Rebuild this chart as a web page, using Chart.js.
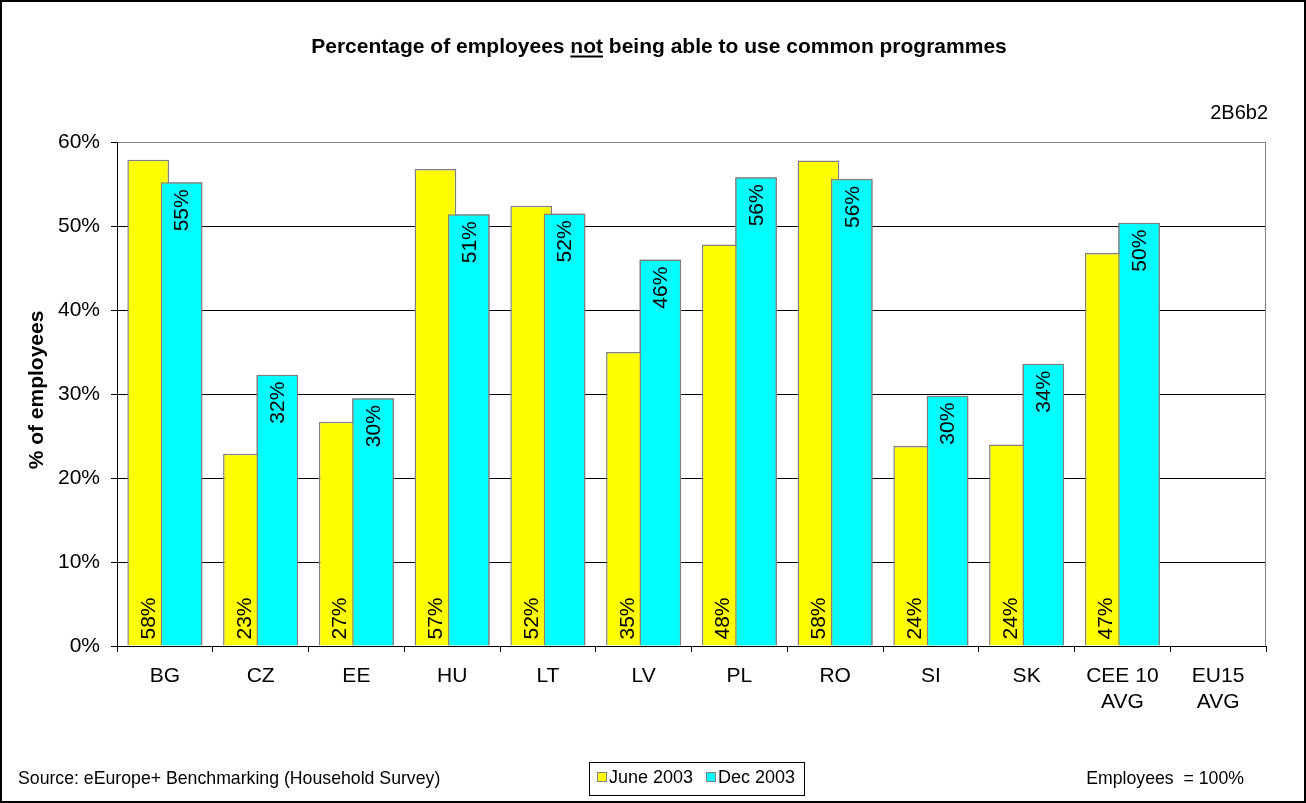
<!DOCTYPE html>
<html>
<head>
<meta charset="utf-8">
<script src="https://cdn.jsdelivr.net/npm/chart.js@4/dist/chart.umd.min.js"></script>
<style>
  html, body { margin: 0; padding: 0; background: #fff; }
  canvas { display: block; }
</style>
</head>
<body>
<canvas id="chart" width="1306" height="803"></canvas>
<script>
// Countries (plus the two averages) along the x axis
const categories = ['BG', 'CZ', 'EE', 'HU', 'LT', 'LV', 'PL', 'RO', 'SI', 'SK', ['CEE 10', 'AVG'], ['EU15', 'AVG']];

// Share of employees who cannot use common programmes, in percent
const june2003 = [57.9, 22.9, 26.7, 56.8, 52.4, 35.0, 47.8, 57.8, 23.8, 24.0, 46.8, null];
const dec2003  = [55.2, 32.3, 29.5, 51.4, 51.5, 46.0, 55.8, 55.6, 29.8, 33.6, 50.4, null];

const seriesNames = ['June 2003', 'Dec 2003'];
const yTickValues = [0, 10, 20, 30, 40, 50, 60];

const titleParts = ['Percentage of employees ', 'not', ' being able to use common programmes'];
const chartCode = '2B6b2';
const yAxisTitle = '% of employees';
const sourceNote = 'Source: eEurope+ Benchmarking (Household Survey)';
const baseNote = 'Employees  = 100%';

const FONT = '"Liberation Sans", Arial, Helvetica, sans-serif';
const YELLOW = '#FFFF00';
const CYAN = '#00FFFF';
const BAR_EDGE = '#808080';

const pct = v => Math.round(v) + '%';

const decorations = {
  id: 'decorations',
  beforeDraw(chart) {
    const ctx = chart.ctx;
    ctx.save();
    ctx.fillStyle = '#fff';
    ctx.fillRect(0, 0, chart.width, chart.height);
    ctx.restore();
  },
  afterDatasetsDraw(chart) {
    const ctx = chart.ctx;
    // the Dec bars overlap the June bars, so paint them again on top
    chart.getDatasetMeta(1).controller.draw();

    ctx.save();
    ctx.fillStyle = '#000';
    ctx.font = '21px ' + FONT;
    ctx.textBaseline = 'middle';
    // June values sit at the foot of the bar, Dec values hang from the top
    chart.getDatasetMeta(0).data.forEach((bar, i) => {
      const v = june2003[i];
      if (v == null) return;
      ctx.save();
      ctx.translate(bar.x, bar.base - 6);
      ctx.rotate(-Math.PI / 2);
      ctx.textAlign = 'left';
      ctx.fillText(pct(v), 0, 1);
      ctx.restore();
    });
    chart.getDatasetMeta(1).data.forEach((bar, i) => {
      const v = dec2003[i];
      if (v == null) return;
      ctx.save();
      ctx.translate(bar.x, bar.y + 7);
      ctx.rotate(-Math.PI / 2);
      ctx.textAlign = 'right';
      ctx.fillText(pct(v), 0, 1);
      ctx.restore();
    });
    ctx.restore();
  },
  afterDraw(chart) {
    const ctx = chart.ctx;
    const area = chart.chartArea;
    ctx.save();

    // grey frame on the right side of the plot
    ctx.strokeStyle = BAR_EDGE;
    ctx.lineWidth = 1;
    ctx.beginPath();
    ctx.moveTo(Math.round(area.right) - 0.5, area.top);
    ctx.lineTo(Math.round(area.right) - 0.5, area.bottom);
    ctx.stroke();

    // title with the underlined word
    ctx.fillStyle = '#000';
    ctx.font = 'bold 21px ' + FONT;
    ctx.textBaseline = 'alphabetic';
    ctx.textAlign = 'left';
    const widths = titleParts.map(p => ctx.measureText(p).width);
    const total = widths.reduce((a, b) => a + b, 0);
    let x = 659 - total / 2;
    titleParts.forEach((p, i) => {
      ctx.fillText(p, x, 53);
      if (i === 1) ctx.fillRect(x, 55.5, widths[i], 2);
      x += widths[i];
    });

    // chart code, top right
    ctx.font = '20px ' + FONT;
    ctx.textAlign = 'right';
    ctx.textBaseline = 'middle';
    ctx.fillText(chartCode, 1268, 113);

    // y axis title
    ctx.save();
    ctx.translate(37, 390);
    ctx.rotate(-Math.PI / 2);
    ctx.font = 'bold 21px ' + FONT;
    ctx.textAlign = 'center';
    ctx.textBaseline = 'middle';
    ctx.fillText(yAxisTitle, 0, 0);
    ctx.restore();

    // footer notes
    ctx.font = '17.7px ' + FONT;
    ctx.textBaseline = 'middle';
    ctx.textAlign = 'left';
    ctx.fillText(sourceNote, 18, 779);
    ctx.textAlign = 'right';
    ctx.fillText(baseNote, 1244, 779);

    // legend
    ctx.strokeStyle = '#000';
    ctx.lineWidth = 1;
    ctx.strokeRect(589.5, 762.5, 215, 33);
    const colors = [YELLOW, CYAN];
    const swatchX = [597, 706];
    ctx.font = '18px ' + FONT;
    ctx.textAlign = 'left';
    chart.data.datasets.forEach((ds, i) => {
      ctx.fillStyle = colors[i];
      ctx.fillRect(swatchX[i], 772, 10, 10);
      ctx.strokeStyle = BAR_EDGE;
      ctx.strokeRect(swatchX[i] + 0.5, 772.5, 9, 9);
      ctx.fillStyle = '#000';
      ctx.fillText(ds.label, swatchX[i] + 12, 778.5);
    });

    // outer frame
    ctx.strokeStyle = '#000';
    ctx.lineWidth = 2;
    ctx.strokeRect(1, 1, chart.width - 2, chart.height - 2);
    ctx.restore();
  }
};

new Chart(document.getElementById('chart'), {
  type: 'bar',
  data: {
    labels: categories,
    datasets: [
      {
        label: seriesNames[0],
        data: june2003,
        backgroundColor: YELLOW,
        borderColor: BAR_EDGE,
        borderWidth: 1.5
      },
      {
        label: seriesNames[1],
        data: dec2003,
        backgroundColor: CYAN,
        borderColor: BAR_EDGE,
        borderWidth: 1.5
      }
    ]
  },
  options: {
    responsive: false,
    animation: false,
    devicePixelRatio: 1,
    categoryPercentage: 0.697,
    barPercentage: 1.25,
    layout: { padding: { left: 0, top: 142, right: 40, bottom: 0 } },
    plugins: {
      legend: { display: false },
      title: { display: false },
      tooltip: { enabled: false }
    },
    scales: {
      x: {
        grid: {
          offset: true,
          drawOnChartArea: false,
          drawTicks: true,
          tickLength: 6,
          color: '#000',
          tickColor: '#000'
        },
        border: { color: '#000', width: 1 },
        ticks: {
          color: '#000',
          padding: 12,
          maxRotation: 0,
          autoSkip: false,
          font: { family: FONT, size: 21, lineHeight: 1.2 }
        },
        afterFit(scale) { scale.height = 157; }
      },
      y: {
        min: 0,
        max: 60,
        afterBuildTicks(scale) { scale.ticks = yTickValues.map(v => ({ value: v })); },
        grid: {
          color: ctx => (ctx.tick && ctx.tick.value === 60 ? BAR_EDGE : '#000'),
          tickColor: '#000',
          tickLength: 6,
          lineWidth: 1
        },
        border: { color: '#000', width: 1 },
        ticks: {
          color: '#000',
          padding: 11,
          font: { family: FONT, size: 21 },
          callback: v => v + '%'
        },
        afterFit(scale) { scale.width = 117; }
      }
    }
  },
  plugins: [decorations]
});
</script>
</body>
</html>
